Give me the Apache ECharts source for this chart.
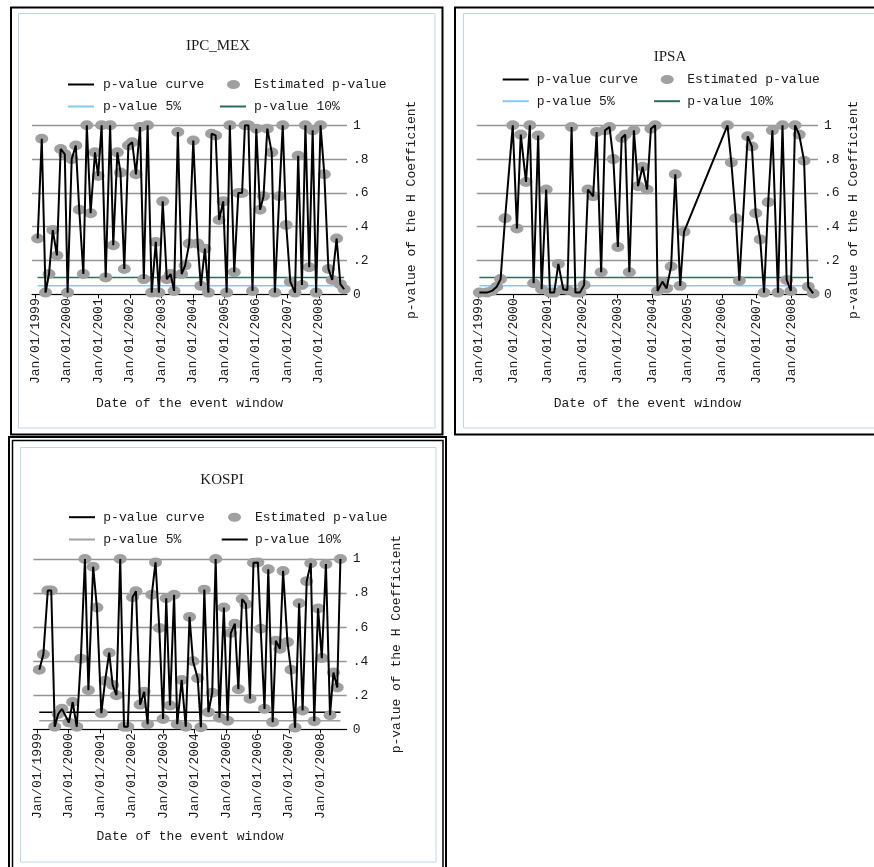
<!DOCTYPE html>
<html><head><meta charset="utf-8">
<script src="https://cdn.jsdelivr.net/npm/echarts@6/dist/echarts.min.js"></script>
<style>html,body{margin:0;padding:0;background:#fff;}#c{width:874px;height:867px;}</style>
</head><body><div id="c"></div>
<script>
// ---------------- DATA ----------------
const yearTicks = [1999,2000,2001,2002,2003,2004,2005,2006,2007,2008];
const pValue5 = 0.05;
const pValue10 = 0.1;
const legendNames = ['p-value curve','Estimated p-value','p-value 5%','p-value 10%'];

// IPC_MEX (event window date as decimal year, estimated p-value)
const mexDates = [1999.07,1999.20,1999.32,1999.43,1999.55,1999.68,1999.80,1999.93,
  2000.02,2000.15,2000.28,2000.39,2000.52,2000.63,2000.75,2000.89,2000.99,
  2001.10,2001.23,2001.37,2001.47,2001.60,2001.70,2001.82,2001.95,
  2002.07,2002.19,2002.32,2002.44,2002.56,2002.69,2002.82,2002.92,
  2003.04,2003.17,2003.29,2003.40,2003.52,2003.64,2003.75,2003.88,
  2004.01,2004.15,2004.25,2004.38,2004.49,2004.59,2004.72,2004.83,2004.96,
  2005.07,2005.17,2005.31,2005.44,2005.56,2005.65,2005.76,2005.89,
  2006.01,2006.13,2006.24,2006.36,2006.50,2006.60,2006.74,2006.85,2006.96,
  2007.09,2007.24,2007.34,2007.46,2007.57,2007.69,2007.80,2007.91,
  2008.05,2008.17,2008.30,2008.42,2008.56,2008.68,2008.80];
const mexPValues = [0.33,0.92,0.01,0.12,0.38,0.23,0.86,0.83,
  0.01,0.80,0.88,0.50,0.12,1.0,0.48,0.84,0.70,
  1.0,0.10,1.0,0.29,0.84,0.72,0.15,0.88,
  0.90,0.71,0.99,0.09,1.0,0.01,0.31,0.01,
  0.55,0.09,0.12,0.02,0.96,0.12,0.17,0.30,
  0.91,0.30,0.05,0.27,0.01,0.95,0.94,0.44,0.55,
  0.01,1.0,0.13,0.60,0.60,1.0,1.0,0.02,
  0.98,0.50,0.58,0.98,0.84,0.01,0.58,1.0,0.41,
  0.075,0.01,0.82,0.055,1.0,0.16,0.97,0.01,
  1.0,0.71,0.15,0.085,0.33,0.06,0.03];

// IPSA
const ipsaDates = [1999.03,1999.24,1999.39,1999.53,1999.64,1999.77,1999.99,
  2000.11,2000.22,2000.37,2000.48,2000.59,2000.72,2000.82,2000.95,
  2001.06,2001.18,2001.30,2001.44,2001.56,2001.68,2001.79,2001.92,
  2002.04,2002.15,2002.30,2002.40,2002.53,2002.64,2002.77,2002.88,
  2003.01,2003.12,2003.22,2003.34,2003.47,2003.59,2003.72,2003.85,2003.96,
  2004.08,2004.15,2004.29,2004.41,2004.54,2004.66,2004.80,2004.91,
  2006.16,2006.27,2006.40,2006.50,2006.74,2006.86,2006.97,
  2007.10,2007.21,2007.33,2007.45,2007.61,2007.74,2007.86,2007.98,
  2008.10,2008.22,2008.36,2008.48,2008.62];
const ipsaPValues = [0.01,0.01,0.02,0.045,0.09,0.45,1.0,
  0.39,0.945,0.665,1.0,0.065,0.94,0.03,0.62,
  0.01,0.01,0.18,0.03,0.025,0.99,0.01,0.01,
  0.055,0.62,0.58,0.96,0.13,0.97,0.99,0.80,
  0.28,0.925,0.945,0.13,0.97,0.64,0.755,0.62,0.98,
  1.0,0.02,0.075,0.035,0.165,0.71,0.05,0.37,
  1.0,0.78,0.45,0.08,0.935,0.875,0.48,
  0.325,0.01,0.545,0.97,0.01,1.0,0.085,0.02,
  1.0,0.945,0.79,0.045,0.005];

// KOSPI
const kospiDates = [1999.07,1999.20,1999.34,1999.45,1999.56,1999.67,1999.79,
  2000.01,2000.13,2000.26,2000.39,2000.52,2000.63,2000.78,2000.90,
  2001.04,2001.16,2001.29,2001.40,2001.52,2001.64,2001.76,2001.88,
  2002.03,2002.14,2002.27,2002.40,2002.51,2002.64,2002.76,2002.88,
  2003.00,2003.10,2003.22,2003.35,2003.45,2003.59,2003.72,2003.84,2003.95,
  2004.10,2004.20,2004.31,2004.44,2004.56,2004.67,2004.79,2004.93,
  2005.05,2005.15,2005.28,2005.39,2005.51,2005.63,2005.76,2005.87,
  2006.01,2006.10,2006.22,2006.34,2006.48,2006.58,2006.71,2006.81,2006.95,
  2007.06,2007.19,2007.32,2007.43,2007.56,2007.69,2007.80,2007.92,
  2008.04,2008.17,2008.30,2008.41,2008.53,2008.63];
const kospiPValues = [0.35,0.44,0.815,0.815,0.015,0.09,0.12,
  0.04,0.16,0.015,0.415,1.0,0.23,0.955,0.715,
  0.095,0.285,0.45,0.26,0.20,1.0,0.015,0.015,
  0.775,0.81,0.145,0.22,0.03,0.79,0.98,0.595,
  0.06,0.77,0.14,0.79,0.03,0.29,0.015,0.66,0.40,
  0.30,0.012,0.82,0.10,0.215,1.0,0.068,0.715,
  0.05,0.565,0.62,0.235,0.765,0.735,0.18,0.978,
  0.98,0.59,0.12,0.94,0.042,0.52,0.473,0.93,0.512,
  0.35,0.01,0.74,0.11,0.87,0.975,0.048,0.71,
  0.418,0.97,0.083,0.333,0.245,1.0];

// ---------------- LAYOUT / STYLE ----------------
const MONO = 'Liberation Mono';
const SERIF = 'Liberation Serif';
const TXT = '#1a1a1a';
const ELLIPSE = 'path://M0,50 A50,50 0 1,1 100,50 A50,50 0 1,1 0,50 Z';

const panels = [
  { title:'IPC_MEX', dates: mexDates, values: mexPValues,
    grid:{left:32, top:125.3, width:315, height:169}, xMin:1998.89, xMax:2008.89,
    c5:'#87c9ec', c10:'#2c6c60', titleC:[218,47],
    rows:[85,107], lineL:68, lineTxt:103, circL:227, line2L:220, col2Txt:254,
    yNameGap:58, xNameGap:103 },
  { title:'IPSA', dates: ipsaDates, values: ipsaPValues,
    grid:{left:476.7, top:125.3, width:341.3, height:169}, xMin:1998.954, xMax:2008.76,
    c5:'#87c9ec', c10:'#2c6c60', titleC:[670,58],
    rows:[80,101.7], lineL:502.7, lineTxt:536.7, circL:660.7, line2L:654, col2Txt:687.3,
    yNameGap:29.5, xNameGap:103 },
  { title:'KOSPI', dates: kospiDates, values: kospiPValues,
    grid:{left:33.3, top:559, width:313.4, height:170.3}, xMin:1998.88, xMax:2008.83,
    c5:'#a0a0a0', c10:'#000000', titleC:[222,480.7],
    rows:[517.7,540], lineL:69, lineTxt:103.3, circL:228, line2L:221.7, col2Txt:255,
    yNameGap:43, xNameGap:101 }
];

const option = {
  animation:false, backgroundColor:'#fff',
  grid:[], xAxis:[], yAxis:[], series:[], title:[], legend:[],
  graphic:[
    {type:'rect', silent:true, z:0, shape:{x:11,y:7.5,width:431.5,height:427}, style:{fill:'none',stroke:'#000',lineWidth:2}},
    {type:'rect', silent:true, z:0, shape:{x:18.5,y:13.5,width:416.5,height:414.5}, style:{fill:'none',stroke:'#bcd9ec',lineWidth:1}},
    {type:'rect', silent:true, z:0, shape:{x:455,y:7.5,width:430,height:427}, style:{fill:'none',stroke:'#000',lineWidth:2}},
    {type:'rect', silent:true, z:0, shape:{x:463.5,y:13.5,width:420,height:414.5}, style:{fill:'none',stroke:'#bcd9ec',lineWidth:1}},
    {type:'rect', silent:true, z:0, shape:{x:9,y:437,width:437,height:440}, style:{fill:'none',stroke:'#000',lineWidth:2}},
    {type:'rect', silent:true, z:0, shape:{x:12.5,y:440.5,width:430.5,height:440}, style:{fill:'none',stroke:'#000',lineWidth:1.5}},
    {type:'rect', silent:true, z:0, shape:{x:20.5,y:447.5,width:415.5,height:414.5}, style:{fill:'none',stroke:'#bcd9ec',lineWidth:1}}
  ]
};

function yLabel(v){
  if (v === 0) return '0';
  if (Math.abs(v-1) < 1e-9) return '1';
  return v.toFixed(1).replace(/^0/,'');
}

panels.forEach((p, i) => {
  const pts = p.dates.map((d, k) => [d, p.values[k]]);
  const first = p.dates[0], last = p.dates[p.dates.length-1];
  option.grid.push(Object.assign({containLabel:false}, p.grid));
  option.xAxis.push({
    type:'value', gridIndex:i, min:p.xMin, max:p.xMax,
    splitLine:{show:false},
    axisLine:{show:true, onZero:false, lineStyle:{color:'#000', width:1}},
    axisTick:{show:true, customValues:yearTicks, length:4, lineStyle:{color:'#000', width:1}},
    axisLabel:{customValues:yearTicks, rotate:90, margin:4, formatter:v=>'Jan/01/'+v,
      fontFamily:MONO, fontSize:13, color:TXT},
    name:'Date of the event window', nameLocation:'middle', nameGap:p.xNameGap,
    nameTextStyle:{fontFamily:MONO, fontSize:13, color:TXT}
  });
  option.yAxis.push({
    type:'value', gridIndex:i, position:'right', min:0, max:1, interval:0.2,
    axisLine:{show:false}, axisTick:{show:false},
    splitLine:{show:true, lineStyle:{color:'#959595', width:1.3}},
    axisLabel:{formatter:yLabel, margin:6, fontFamily:MONO, fontSize:13, color:TXT},
    name:'p-value of the H Coefficient', nameLocation:'middle', nameRotate:90, nameGap:p.yNameGap,
    nameTextStyle:{fontFamily:MONO, fontSize:13, color:TXT}
  });
  option.series.push(
    {name:legendNames[2], type:'line', xAxisIndex:i, yAxisIndex:i, data:[[first,pValue5],[last,pValue5]],
      symbol:'none', lineStyle:{color:p.c5, width:1.5}, itemStyle:{color:p.c5}, z:1, silent:true},
    {name:legendNames[3], type:'line', xAxisIndex:i, yAxisIndex:i, data:[[first,pValue10],[last,pValue10]],
      symbol:'none', lineStyle:{color:p.c10, width:1.5}, itemStyle:{color:p.c10}, z:1, silent:true},
    {name:legendNames[1], type:'scatter', xAxisIndex:i, yAxisIndex:i, data:pts, clip:false,
      symbol:ELLIPSE, symbolSize:[13,10], itemStyle:{color:'#a0a0a0', opacity:1}, z:2, silent:true},
    {name:legendNames[0], type:'line', xAxisIndex:i, yAxisIndex:i, data:pts,
      symbol:'none', lineStyle:{color:'#000', width:2}, itemStyle:{color:'#000'}, z:3, silent:true}
  );
  option.title.push({text:p.title, left:p.titleC[0], top:p.titleC[1]-8, textAlign:'center', padding:0,
    textStyle:{fontFamily:SERIF, fontSize:15, fontWeight:'normal', color:TXT}});
  const lg = (name, left, rowY, icon, w, h, color, txtX) => ({
    left:left, top:rowY-7, padding:0, orient:'horizontal', selectedMode:false,
    itemWidth:w, itemHeight:h, symbolKeepAspect:false,
    data:[{name:name, icon:icon, itemStyle:{color:color, borderWidth:0}}],
    textStyle:{fontFamily:MONO, fontSize:13, color:TXT, padding:[0,0,0, txtX-(left+w+5)]}
  });
  option.legend.push(
    lg(legendNames[0], p.lineL, p.rows[0], 'rect', 26, 2, '#000', p.lineTxt),
    lg(legendNames[1], p.circL, p.rows[0], ELLIPSE, 13, 9, '#a0a0a0', p.col2Txt),
    lg(legendNames[2], p.lineL, p.rows[1], 'rect', 26, 2, p.c5, p.lineTxt),
    lg(legendNames[3], p.line2L, p.rows[1], 'rect', 26, 2, p.c10, p.col2Txt)
  );
});

const chart = echarts.init(document.getElementById('c'), null, {renderer:'canvas'});
chart.setOption(option);
</script>
</body></html>
